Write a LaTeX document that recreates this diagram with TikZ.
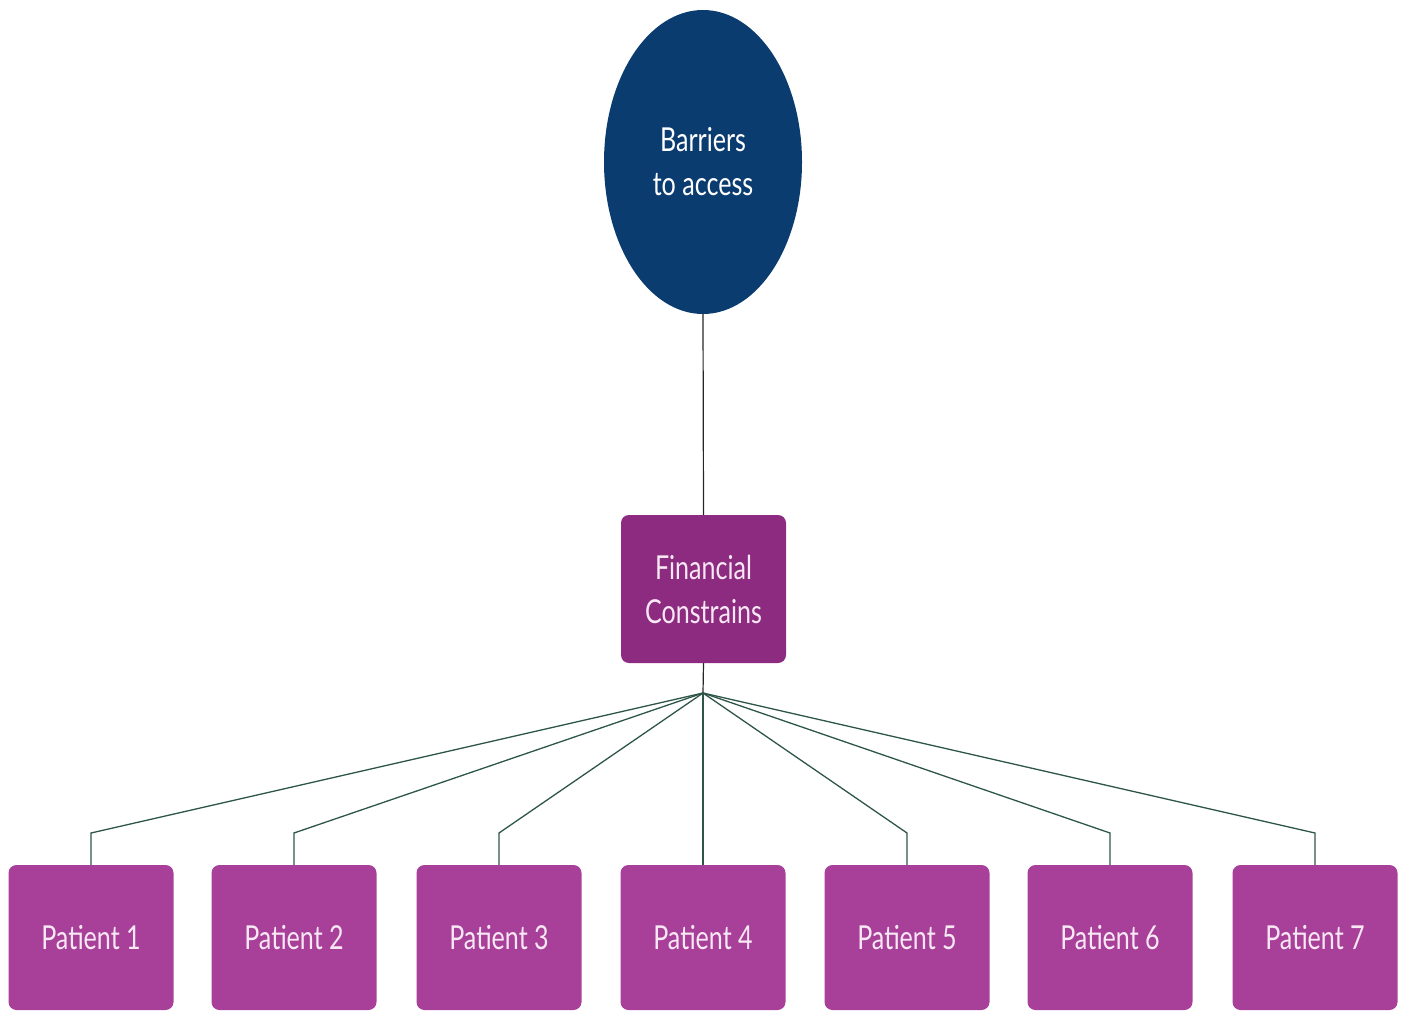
\documentclass[tikz,border=0pt]{standalone}
\usepackage{fontspec}
\newfontfamily\lato[FakeStretch=0.76]{Lato}
\usetikzlibrary{shapes.geometric}
\definecolor{navy}{HTML}{0B3C70}
\definecolor{finpurple}{HTML}{8D2B80}
\definecolor{patpurple}{HTML}{A8409A}
\definecolor{linkgreen}{HTML}{2E5648}
\definecolor{txtpink}{HTML}{F8E8F4}
\tikzset{
  top/.style={ellipse, fill=navy, minimum width=198pt, minimum height=304pt, inner sep=0pt,
    text=white, font=\lato\fontsize{33}{44}\selectfont, align=center},
  finbox/.style={rectangle, rounded corners=8pt, fill=finpurple, minimum width=165pt, minimum height=148pt,
    inner sep=0pt, text=txtpink, font=\lato\fontsize{33}{44}\selectfont, align=center},
  patbox/.style={rectangle, rounded corners=8pt, fill=patpurple, minimum width=165pt, minimum height=145pt,
    inner sep=0pt, text=txtpink, font=\lato\fontsize{33}{40}\selectfont, align=center},
  link/.style={draw=linkgreen, line width=1.3pt},
  vlink/.style={draw=black!85, line width=1.2pt}
}
\begin{document}
\begin{tikzpicture}[x=1pt,y=-1pt]
\useasboundingbox (0,0) rectangle (1405,1011);
\node[top] (top) at (703,162) {Barriers\\to access};
\node[finbox] (fin) at (703.5,589) {Financial\\Constrains};
\coordinate (j) at (703,693);
\foreach \i/\x in {1/91,2/294,3/499,4/703,5/907,6/1110,7/1315}{
  \node[patbox] (p\i) at (\x,937.5) {Patient \i};
}
\draw[vlink] (top.south) -- (fin.north);
\draw[vlink] (fin.south) -- (j);
\foreach \i in {1,2,3,5,6,7}{
  \draw[link] (j) -- (p\i.north |- 0,833) -- (p\i.north);
}
\draw[link] (j) -- (p4.north);
\end{tikzpicture}
\end{document}
